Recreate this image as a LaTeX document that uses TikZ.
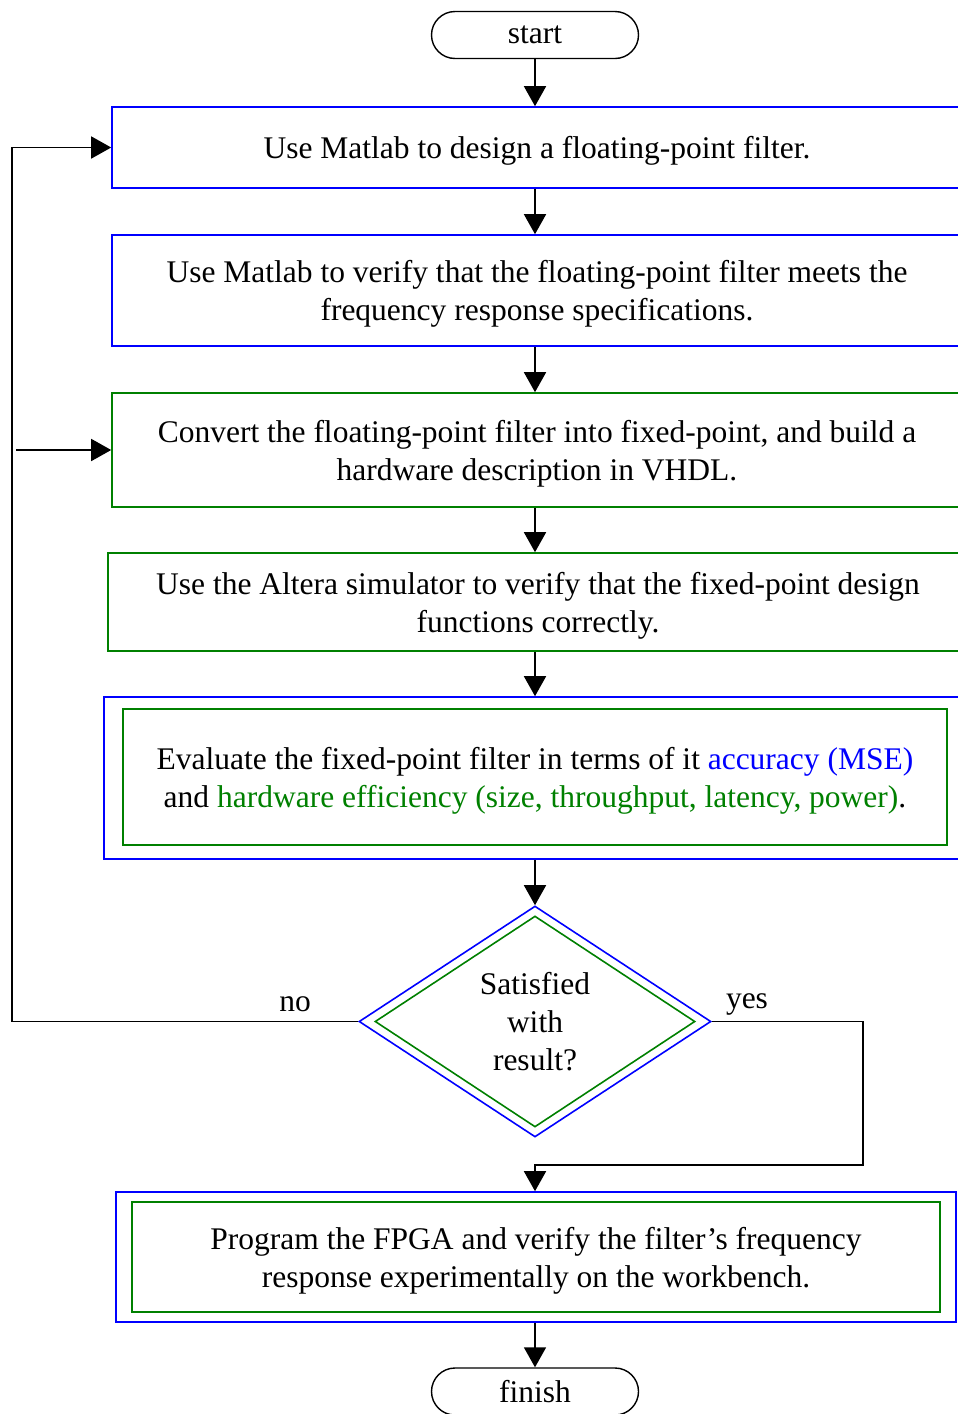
\documentclass[tikz,border=0pt]{standalone}
\usepackage{fontspec}
\setmainfont{Liberation Serif}
\usetikzlibrary{arrows.meta,shapes.misc,shapes.geometric,positioning}
\definecolor{boxgreen}{RGB}{0,128,0}

\begin{document}
\begin{tikzpicture}[x=1pt,y=-1pt,font=\fontsize{31.5}{38}\selectfont]
\tikzstyle{terminal} = [
	shape=rounded rectangle,
	draw=black, %border of the start/finish nodes
	line width=1.4pt,
	minimum width=207pt,
	minimum height=47pt,
	inner sep=0pt,
	text depth=-6pt
];
\tikzstyle{bluebox} = [
	shape=rectangle,
	draw=blue,
	line width=1.6pt,
	inner sep=0pt,
	align=center,
	text depth=-6pt
];
\tikzstyle{greenbox} = [bluebox, draw=boxgreen];
\tikzstyle{flow} = [-{Triangle[length=20pt,width=22pt]}, line width=1.6pt, color=black];

\useasboundingbox (0,0) rectangle (958,1414);

\node[terminal](start) at (535,35) {start};

\node[bluebox, minimum width=850pt, minimum height=81pt](design) at (537,147.5)
	{Use Matlab to design a floating-point filter.};
\node[bluebox, minimum width=850pt, minimum height=111pt](verify) at (537,290.5)
	{Use Matlab to verify that the floating-point filter meets the\\frequency response specifications.};
\node[greenbox, minimum width=850pt, minimum height=114pt](convert) at (537,450)
	{Convert the floating-point filter into fixed-point, and build a\\hardware description in VHDL.};
\node[greenbox, minimum width=860pt, minimum height=98pt](simulate) at (538,602)
	{Use the Altera simulator to verify that the fixed-point design\\functions correctly.};

\node[bluebox, minimum width=862pt, minimum height=162pt](evalout) at (535,778) {};
\node[greenbox, minimum width=824pt, minimum height=136pt](evalin) at (535,777)
	{Evaluate the fixed-point filter in terms of it \textcolor{blue}{accuracy (MSE)}\\
	and \textcolor{boxgreen}{hardware efficiency (size, throughput, latency, power)}.};

\node[bluebox, shape=diamond, minimum width=352pt, minimum height=231pt](decout) at (535,1021.5) {};
\node[greenbox, shape=diamond, minimum width=320pt, minimum height=211pt](decin) at (535,1021.5)
	{Satisfied\\with\\result?};

\node[bluebox, minimum width=840pt, minimum height=130pt](progout) at (536,1257) {};
\node[greenbox, minimum width=808pt, minimum height=110pt](progin) at (536,1257)
	{Program the FPGA and verify the filter's frequency\\response experimentally on the workbench.};

\node[terminal](finish) at (535,1391.5) {finish};

\node(nolabel) at (295,1004) {no};
\node(yeslabel) at (747,1004) {yes};

\coordinate (noturn) at (12,1021.5);
\coordinate (nobranch) at (16,450);
\coordinate (yesturn) at (863,1021.5);
\coordinate (yesdrop) at (535,1165);

%main sequence
\draw[flow] (start.south) -- (start.south |- design.north);
\draw[flow] (design.south -| start.south) -- (verify.north -| start.south);
\draw[flow] (verify.south -| start.south) -- (convert.north -| start.south);
\draw[flow] (convert.south -| start.south) -- (simulate.north -| start.south);
\draw[flow] (simulate.south -| start.south) -- (evalout.north);
\draw[flow] (evalout.south) -- (decout.north);
\draw[flow] (progout.south -| finish.north) -- (finish.north);

%no: back to design
\draw[flow] (decout.west) -- (noturn) |- (design.west);
\draw[flow] (nobranch) -- (convert.west);

%yes: on to the board
\draw[flow] (decout.east) -- (yesturn) |- (yesdrop) -- (yesdrop |- progout.north);

\end{tikzpicture}
\end{document}
